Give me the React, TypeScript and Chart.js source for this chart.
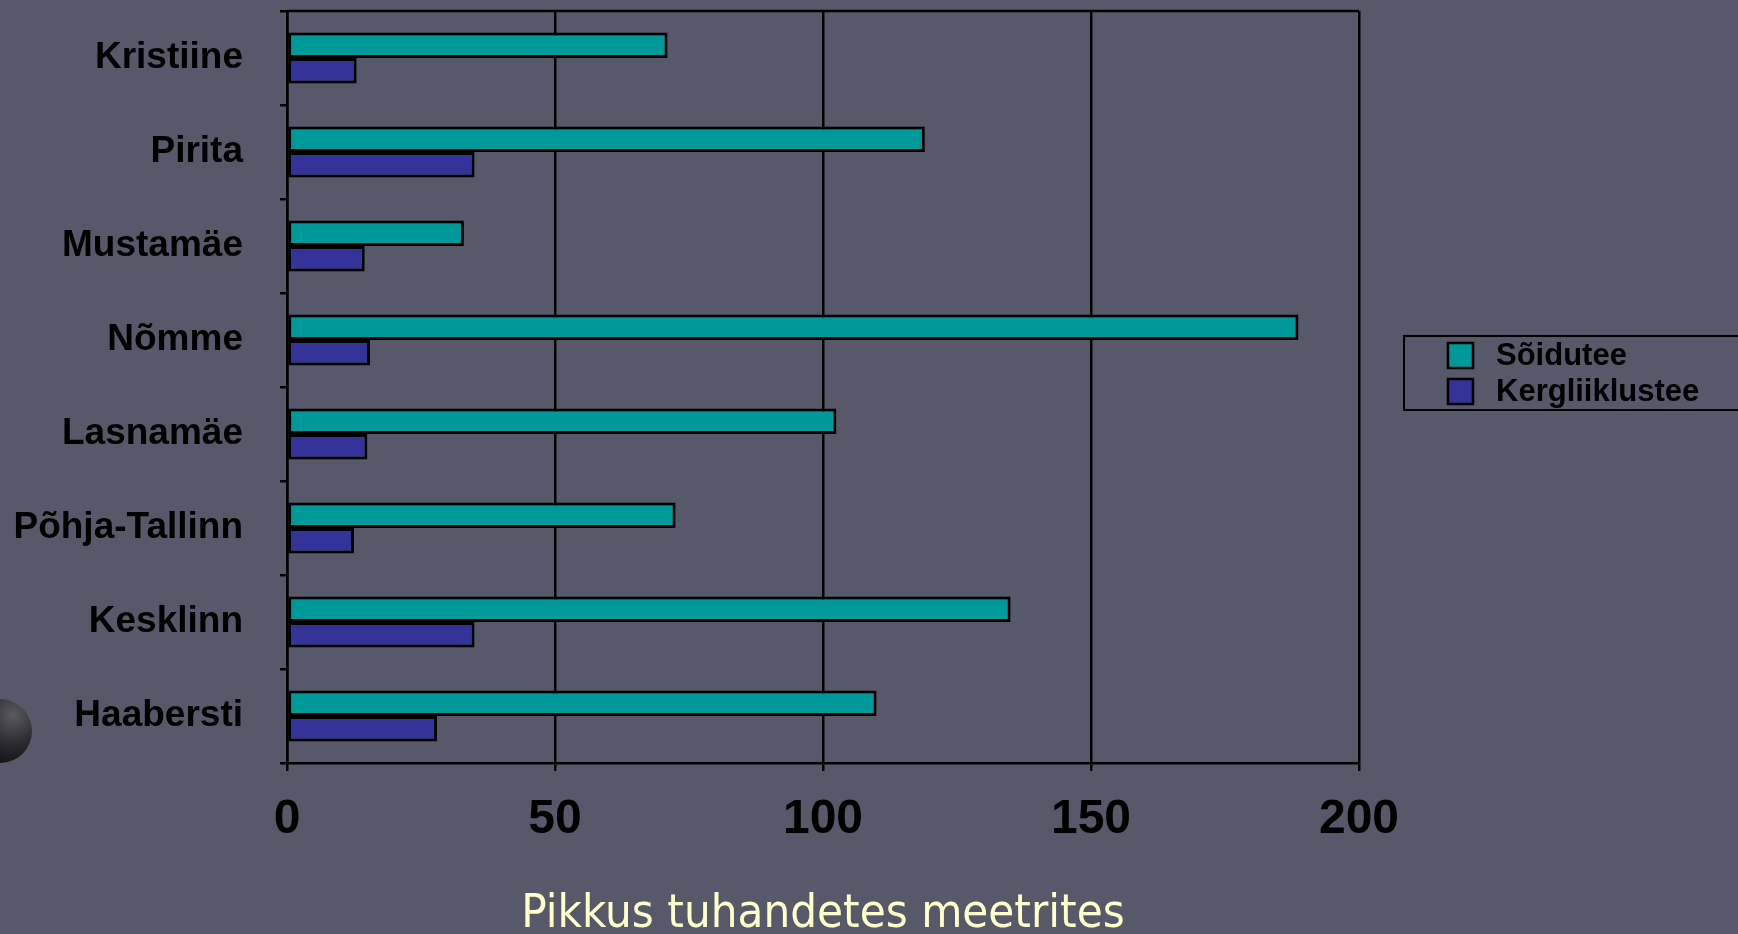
import React, { useEffect, useRef } from "react";
import { Chart, registerables } from "chart.js";

Chart.register(...registerables);

const categories = [
  "Kristiine",
  "Pirita",
  "Mustamäe",
  "Nõmme",
  "Lasnamäe",
  "Põhja-Tallinn",
  "Kesklinn",
  "Haabersti",
];
const soidutee = [71, 119, 33, 188.7, 102.5, 72.5, 135, 110];
const kergliiklustee = [13, 35, 14.5, 15.5, 15, 12.5, 35, 28];
const seriesNames = ["Sõidutee", "Kergliiklustee"];
const seriesColors = ["#009999", "#333399"];
const axisTitle = "Pikkus tuhandetes meetrites";

const framePlugin = {
  id: "frame",
  afterDraw(chart: any) {
    const { ctx, chartArea } = chart;
    ctx.save();
    ctx.strokeStyle = "#000";
    ctx.lineWidth = 2.5;
    ctx.beginPath();
    ctx.moveTo(chartArea.left, chartArea.top);
    ctx.lineTo(chartArea.right, chartArea.top);
    ctx.stroke();
    ctx.restore();
  },
};

const boxLegendPlugin = {
  id: "boxLegend",
  afterDraw(chart: any) {
    const { ctx, chartArea } = chart;
    const left = chartArea.right + 45;
    const top = chartArea.top + 325;
    const h = 74;
    ctx.save();
    ctx.strokeStyle = "#000";
    ctx.lineWidth = 2;
    ctx.strokeRect(left, top, chart.width - left + 10, h);
    ctx.font = "bold 31px 'Liberation Sans', Arial, sans-serif";
    ctx.textBaseline = "middle";
    ctx.textAlign = "left";
    chart.data.datasets.forEach((ds: any, i: number) => {
      const cy = top + 19 + i * 36;
      ctx.fillStyle = ds.backgroundColor;
      ctx.fillRect(left + 44, cy - 12, 25, 25);
      ctx.lineWidth = 2.5;
      ctx.strokeStyle = "#000";
      ctx.strokeRect(left + 44, cy - 12, 25, 25);
      ctx.fillStyle = "#000";
      ctx.fillText(ds.label, left + 92, cy + 1);
    });
    ctx.restore();
  },
};

export default function App() {
  const canvasRef = useRef<HTMLCanvasElement | null>(null);

  useEffect(() => {
    document.body.style.margin = "0";
    const canvas = canvasRef.current;
    if (!canvas) return;
    const chart = new Chart(canvas, {
      type: "bar",
      data: {
        labels: categories,
        datasets: [
          {
            label: seriesNames[0],
            data: soidutee,
            backgroundColor: seriesColors[0],
            borderColor: "#000",
            borderWidth: 3,
            borderSkipped: false,
            categoryPercentage: 0.54,
            barPercentage: 1.0,
          },
          {
            label: seriesNames[1],
            data: kergliiklustee,
            backgroundColor: seriesColors[1],
            borderColor: "#000",
            borderWidth: 3,
            borderSkipped: false,
            categoryPercentage: 0.54,
            barPercentage: 1.0,
          },
        ],
      },
      options: {
        indexAxis: "y",
        responsive: false,
        maintainAspectRatio: false,
        animation: false,
        layout: { padding: { left: 0, top: 11, right: 379, bottom: 0 } },
        plugins: {
          legend: { display: false },
          tooltip: { enabled: false },
        },
        scales: {
          x: {
            min: 0,
            max: 200,
            ticks: {
              stepSize: 50,
              color: "#000",
              padding: 20,
              font: { family: "'Liberation Sans', Arial, sans-serif", size: 48, weight: "bold" },
            },
            grid: {
              color: "#000",
              lineWidth: 2.5,
              tickLength: 8,
              drawOnChartArea: true,
            },
            border: { display: true, color: "#000", width: 2.5 },
            title: {
              display: true,
              text: axisTitle,
              color: "#FFFFCC",
              font: { family: "'DejaVu Sans Condensed', 'DejaVu Sans', sans-serif", size: 47 },
              padding: { top: 0, bottom: -9 },
            },
            afterFit(scale: any) {
              scale.height = 171;
              scale.paddingLeft = 0;
              scale.paddingRight = 0;
            },
          },
          y: {
            ticks: {
              color: "#000",
              padding: 37,
              font: { family: "'Liberation Sans', Arial, sans-serif", size: 37, weight: "bold" },
            },
            grid: {
              color: "#000",
              lineWidth: 2.5,
              tickLength: 7,
              drawOnChartArea: false,
              offset: true,
            },
            border: { display: true, color: "#000", width: 2.5 },
            afterFit(scale: any) {
              scale.width = 287;
              scale.paddingTop = 0;
              scale.paddingBottom = 0;
            },
          },
        },
      },
      plugins: [framePlugin, boxLegendPlugin],
    } as any);
    return () => chart.destroy();
  }, []);

  return (
    <div
      style={{
        position: "fixed",
        left: 0,
        top: 0,
        width: 1738,
        height: 934,
        background: "#57596A",
        overflow: "hidden",
      }}
    >
      <div
        style={{
          position: "absolute",
          left: -32,
          top: 699,
          width: 64,
          height: 64,
          borderRadius: "50%",
          background: "radial-gradient(circle at 70% 25%, #5a5a60 0%, #2a2a30 45%, #101014 80%)",
        }}
      />
      <canvas ref={canvasRef} width={1738} height={934} style={{ position: "absolute", left: 0, top: 0 }} />
    </div>
  );
}
